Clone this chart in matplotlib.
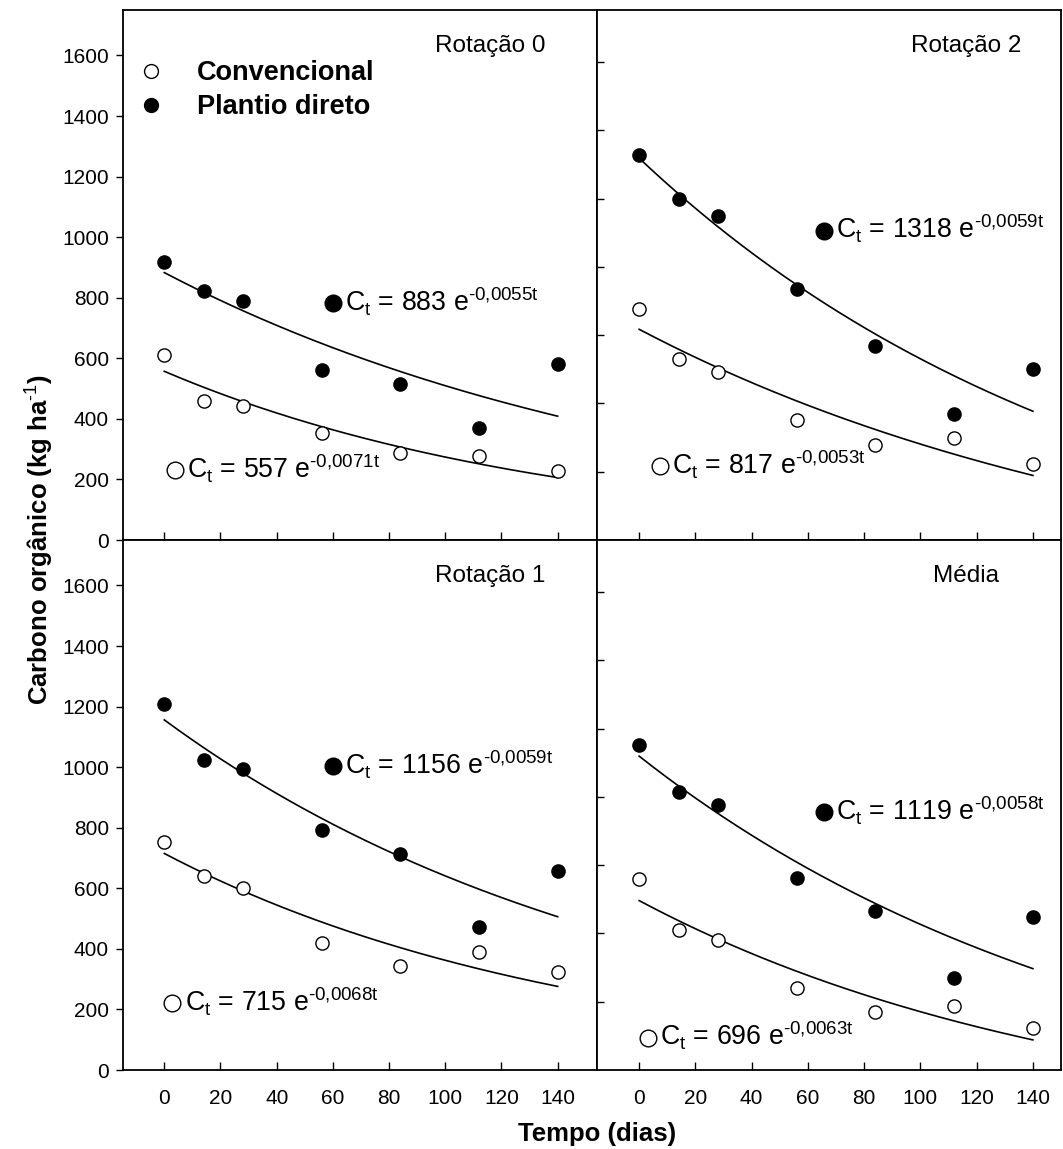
import matplotlib

matplotlib.use("Agg")
import matplotlib.pyplot as plt
import numpy as np

plt.rcParams["font.family"] = ["Liberation Sans", "DejaVu Sans"]
plt.rcParams["mathtext.fontset"] = "custom"
plt.rcParams["mathtext.rm"] = "Liberation Sans"
plt.rcParams["mathtext.bf"] = "Liberation Sans:bold"

# sampling times (days)
t_days = [0, 14, 28, 56, 84, 112, 140]

# organic carbon (kg/ha), convencional (open) and plantio direto (filled)
r0_conv = [612, 458, 443, 354, 287, 279, 227]
r0_pd = [917, 821, 788, 560, 515, 370, 580]
r2_conv = [877, 730, 691, 550, 477, 498, 422]
r2_pd = [1328, 1200, 1148, 935, 769, 568, 702]
r1_conv = [752, 640, 600, 420, 344, 389, 322]
r1_pd = [1208, 1025, 993, 792, 714, 472, 657]
med_conv = [759, 610, 581, 441, 369, 387, 322]
med_pd = [1152, 1015, 976, 763, 666, 469, 648]

# fitted model C_t = C0 * exp(-k t): (C0, k, k as printed)
r0_fit = {"conv": (557, 0.0071, "0,0071"), "pd": (883, 0.0055, "0,0055")}
r2_fit = {"conv": (817, 0.0053, "0,0053"), "pd": (1318, 0.0059, "0,0059")}
r1_fit = {"conv": (715, 0.0068, "0,0068"), "pd": (1156, 0.0059, "0,0059")}
med_fit = {"conv": (696, 0.0063, "0,0063"), "pd": (1119, 0.0058, "0,0058")}

titles = ["Rotação 0", "Rotação 2", "Rotação 1", "Média"]

W, H = 1063, 1149
fig = plt.figure(figsize=(W / 100, H / 100), dpi=100)


def px_axes(x0, x1, ytop, ybot):
    return fig.add_axes([x0 / W, 1 - ybot / H, (x1 - x0) / W, (ybot - ytop) / H])


panels = [
    # axes box (px), limits, data, fit, equation symbol positions (pd, conv)
    dict(box=(123, 597, 10, 540), xlim=(-14.7, 154), ylim=(0, 1750),
         conv=r0_conv, pd=r0_pd, fit=r0_fit, eq=((60, 781), (3.8, 230)), left=True, bottom=False),
    dict(box=(597, 1061, 10, 540), xlim=(-15, 150), ylim=(200, 1752),
         conv=r2_conv, pd=r2_pd, fit=r2_fit, eq=((65.7, 1106), (7.4, 417)), left=False, bottom=False),
    dict(box=(123, 597, 540, 1070), xlim=(-14.7, 154), ylim=(0, 1750),
         conv=r1_conv, pd=r1_pd, fit=r1_fit, eq=((60, 1004), (2.8, 221)), left=True, bottom=True),
    dict(box=(597, 1061, 540, 1070), xlim=(-15, 150), ylim=(200, 1752),
         conv=med_conv, pd=med_pd, fit=med_fit, eq=((65.7, 956), (3.1, 295)), left=False, bottom=True),
]

tt = np.linspace(0, 140, 200)
for i, p in enumerate(panels):
    ax = px_axes(*p["box"])
    ax.set_xlim(*p["xlim"])
    ax.set_ylim(*p["ylim"])

    for key in ("conv", "pd"):
        c0, k, _ = p["fit"][key]
        ax.plot(tt, c0 * np.exp(-k * tt), color="black", lw=1.2, zorder=2)

    h_conv, = ax.plot(t_days, p["conv"], "o", ms=9.5, mfc="white", mec="black",
                      mew=1.0, ls="none", zorder=3, label="Convencional")
    h_pd, = ax.plot(t_days, p["pd"], "o", ms=9.5, mfc="black", mec="black",
                    ls="none", zorder=3, label="Plantio direto")

    # equation labels with their symbol
    for key, (ex, ey), filled in (("pd", p["eq"][0], True), ("conv", p["eq"][1], False)):
        c0, k, klab = p["fit"][key]
        ax.plot([ex], [ey], "o", ms=12, mfc="black" if filled else "white",
                mec="black", mew=1.0, clip_on=False, zorder=4)
        ax.annotate(r"$\mathregular{C_t\text{ = %d }e^{\text{-%st}}}$" % (c0, klab),
                    xy=(ex, ey), xytext=(9, -6), textcoords="offset points",
                    ha="left", va="baseline", fontsize=19.3)

    ax.text(0.775 if p["left"] else 0.796, 0.92, titles[i], transform=ax.transAxes,
            ha="center", va="baseline", fontsize=17.5)

    ax.set_xticks(range(0, 141, 20))
    ax.tick_params(axis="x", direction="in", length=6, width=1.0,
                   labelbottom=p["bottom"], labelsize=15, pad=14)
    if p["left"]:
        ax.set_yticks(range(0, 1601, 200))
        ax.tick_params(axis="y", direction="out", length=5, width=1.0, labelsize=15, pad=5)
    else:
        ax.set_yticks(range(400, 1601, 200))
        ax.tick_params(axis="y", direction="in", length=5, width=1.0, labelleft=False)
    for sp in ax.spines.values():
        sp.set_linewidth(1.3)

    if i == 0:
        ax.legend(handles=[h_conv, h_pd], loc="upper left", bbox_to_anchor=(0.03, 0.905),
                  frameon=False, borderaxespad=0, borderpad=0, handlelength=1.0,
                  handletextpad=1.2, labelspacing=0.3, markerscale=1.05,
                  prop={"size": 19.5, "weight": "bold"})

fig.text(40 / W, 1 - 540 / H, r"Carbono orgânico (kg ha$\mathbf{^{\text{-1}}}$)",
         rotation=90, ha="center", va="center", fontsize=18.5, fontweight="bold")
fig.text(597 / W, 1 - 1134 / H, "Tempo (dias)", ha="center", va="center",
         fontsize=18.5, fontweight="bold")

fig.savefig("out.png", dpi=100)
